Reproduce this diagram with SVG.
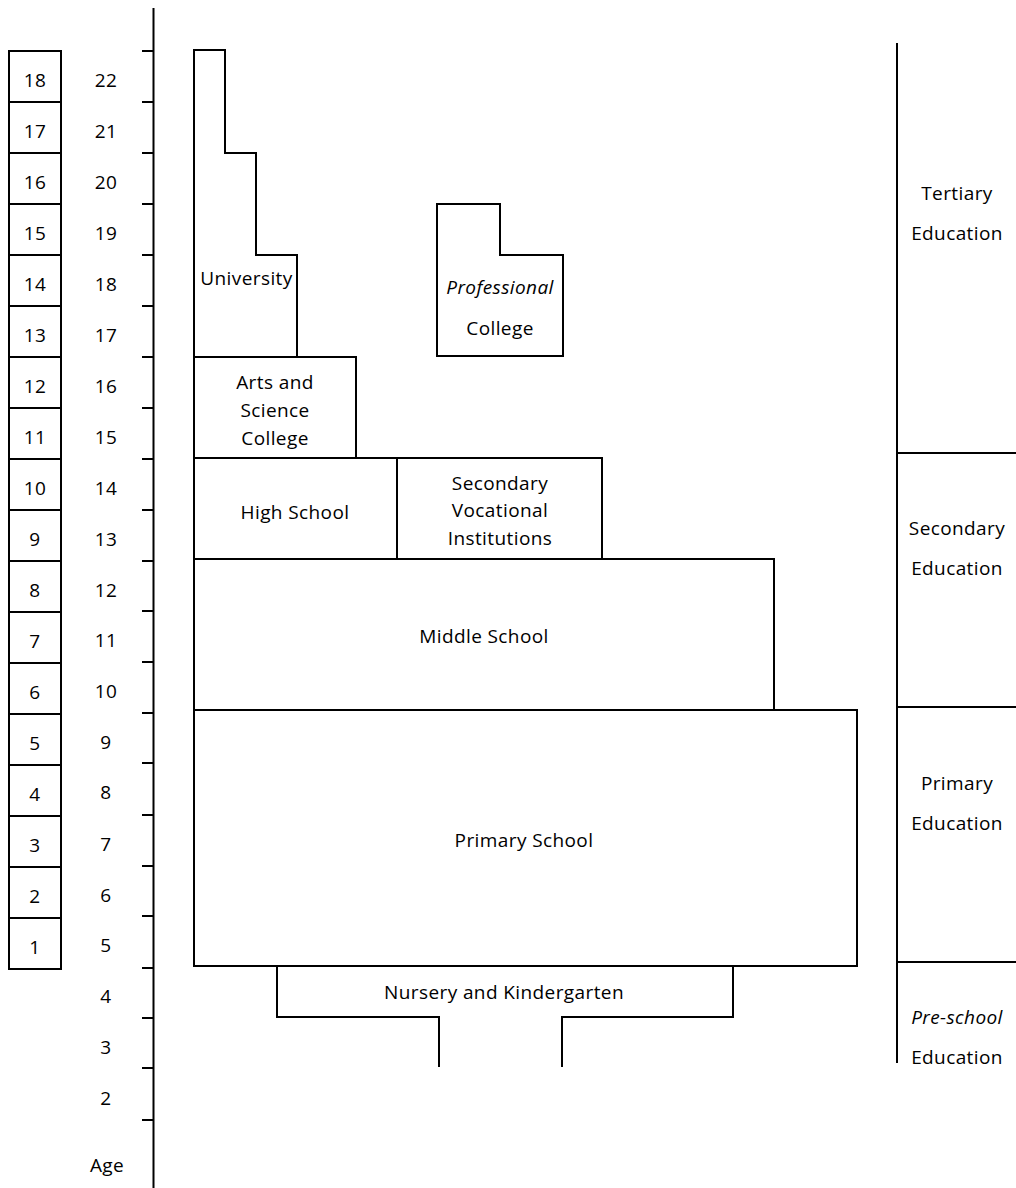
<svg xmlns="http://www.w3.org/2000/svg" width="1016" height="1188" viewBox="0 0 1016 1188">
<style>
  .ln { fill: none; stroke: #000; stroke-width: 2; }
  .bx { fill: #fff; stroke: #000; stroke-width: 2; }
  text { font-family: "Open Sans", "Noto Sans", "Liberation Sans", sans-serif; font-size: 19px; fill: #000; text-anchor: middle; letter-spacing: 0.4px; }
  .it { font-style: italic; }
</style>
<rect x="0" y="0" width="1016" height="1188" fill="#fff"/>

<g id="year-boxes">
  <rect class="bx" x="9" y="51" width="52" height="51"/><text x="35" y="87">18</text>
  <rect class="bx" x="9" y="102" width="52" height="51"/><text x="35" y="138">17</text>
  <rect class="bx" x="9" y="153" width="52" height="51"/><text x="35" y="189">16</text>
  <rect class="bx" x="9" y="204" width="52" height="51"/><text x="35" y="240">15</text>
  <rect class="bx" x="9" y="255" width="52" height="51"/><text x="35" y="291">14</text>
  <rect class="bx" x="9" y="306" width="52" height="51"/><text x="35" y="342">13</text>
  <rect class="bx" x="9" y="357" width="52" height="51"/><text x="35" y="393">12</text>
  <rect class="bx" x="9" y="408" width="52" height="51"/><text x="35" y="444">11</text>
  <rect class="bx" x="9" y="459" width="52" height="51"/><text x="35" y="495">10</text>
  <rect class="bx" x="9" y="510" width="52" height="51"/><text x="35" y="546">9</text>
  <rect class="bx" x="9" y="561" width="52" height="51"/><text x="35" y="597">8</text>
  <rect class="bx" x="9" y="612" width="52" height="51"/><text x="35" y="648">7</text>
  <rect class="bx" x="9" y="663" width="52" height="51"/><text x="35" y="699">6</text>
  <rect class="bx" x="9" y="714" width="52" height="51"/><text x="35" y="750">5</text>
  <rect class="bx" x="9" y="765" width="52" height="51"/><text x="35" y="801">4</text>
  <rect class="bx" x="9" y="816" width="52" height="51"/><text x="35" y="852">3</text>
  <rect class="bx" x="9" y="867" width="52" height="51"/><text x="35" y="903">2</text>
  <rect class="bx" x="9" y="918" width="52" height="51"/><text x="35" y="954">1</text>
</g>

<g id="age-axis">
  <line class="ln" x1="153.5" y1="8" x2="153.5" y2="1188"/>
  <path class="ln" d="M142,51H153 M142,102H153 M142,153H153 M142,204H153 M142,255H153 M142,306H153 M142,357H153 M142,408H153 M142,459H153 M142,510H153 M142,561H153 M142,611H153 M142,662H153 M142,713H153 M142,763H153 M142,815H153 M142,866H153 M142,916H153 M142,968H153 M142,1018H153 M142,1068H153 M142,1120H153"/>
  <text x="106" y="87">22</text>
  <text x="106" y="138">21</text>
  <text x="106" y="189">20</text>
  <text x="106" y="240">19</text>
  <text x="106" y="291">18</text>
  <text x="106" y="342">17</text>
  <text x="106" y="393">16</text>
  <text x="106" y="444">15</text>
  <text x="106" y="495">14</text>
  <text x="106" y="546">13</text>
  <text x="106" y="597">12</text>
  <text x="106" y="647">11</text>
  <text x="106" y="698">10</text>
  <text x="106" y="749">9</text>
  <text x="106" y="799">8</text>
  <text x="106" y="851">7</text>
  <text x="106" y="902">6</text>
  <text x="106" y="952">5</text>
  <text x="106" y="1003">4</text>
  <text x="106" y="1054">3</text>
  <text x="106" y="1105">2</text>
  <text x="107" y="1172">Age</text>
</g>

<g id="university">
  <polygon class="bx" points="194,50 225,50 225,153 256,153 256,255 297,255 297,357 194,357"/>
  <text x="246.5" y="285">University</text>
</g>

<g id="professional-college">
  <polygon class="bx" points="437,204 500,204 500,255 563,255 563,356 437,356"/>
  <text class="it" x="500" y="294">Professional</text>
  <text x="500" y="335">College</text>
</g>

<g id="arts-science-college">
  <rect class="bx" x="194" y="357" width="162" height="101"/>
  <text x="275" y="389">Arts and</text>
  <text x="275" y="417">Science</text>
  <text x="275" y="445">College</text>
</g>

<g id="high-school">
  <rect class="bx" x="194" y="458" width="203" height="101"/>
  <text x="295" y="519">High School</text>
</g>

<g id="secondary-vocational">
  <rect class="bx" x="397" y="458" width="205" height="101"/>
  <text x="500" y="490">Secondary</text>
  <text x="500" y="517">Vocational</text>
  <text x="500" y="545">Institutions</text>
</g>

<g id="middle-school">
  <rect class="bx" x="194" y="559" width="580" height="151"/>
  <text x="484" y="643">Middle School</text>
</g>

<g id="primary-school">
  <rect class="bx" x="194" y="710" width="663" height="256"/>
  <text x="524" y="847">Primary School</text>
</g>

<g id="nursery">
  <path class="ln" d="M439,1067 V1017 H277 V966 H733 V1017 H562 V1067"/>
  <text x="504" y="999">Nursery and Kindergarten</text>
</g>

<g id="stages">
  <line class="ln" x1="897" y1="43" x2="897" y2="1063"/>
  <path class="ln" d="M897,453H1016 M897,707H1016 M897,962H1016"/>
  <text x="957" y="200">Tertiary</text>
  <text x="957" y="240">Education</text>
  <text x="957" y="535">Secondary</text>
  <text x="957" y="575">Education</text>
  <text x="957" y="790">Primary</text>
  <text x="957" y="830">Education</text>
  <text class="it" x="957" y="1024">Pre-school</text>
  <text x="957" y="1064">Education</text>
</g>
</svg>
